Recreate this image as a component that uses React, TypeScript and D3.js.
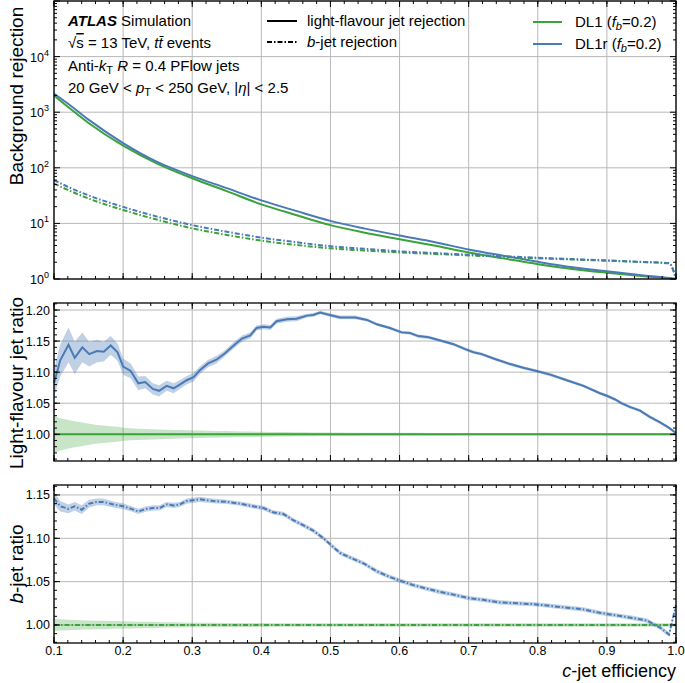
import React from "react";
import * as d3 from "d3";

const GREEN = "#3aa33a";
const BLUE = "#4a7ab6";
const GRID = "#b8b8b8";
const FONT = "'Liberation Sans', Arial, Helvetica, sans-serif";

// top panel: background rejection vs c-jet efficiency
const effTop = [0.1, 0.12, 0.15, 0.2, 0.25, 0.3, 0.35, 0.4, 0.45, 0.5, 0.55, 0.6, 0.65, 0.7, 0.75, 0.8, 0.85, 0.9, 0.95, 0.99, 1.0];
const lightRejDL1 = [2000, 1250, 640, 250, 118, 65, 38, 22, 14.2, 9.3, 6.8, 5.2, 4.0, 3.0, 2.35, 1.85, 1.52, 1.3, 1.13, 1.03, 1.0];
const lightRejDL1r = [2160, 1430, 735, 278, 126, 71, 43, 25.9, 16.8, 11.1, 8.05, 6.05, 4.62, 3.4, 2.62, 2.04, 1.63, 1.38, 1.17, 1.04, 1.0];
const bRejDL1 = [52, 40, 28, 17.4, 11.6, 8.15, 6.2, 4.9, 4.1, 3.56, 3.25, 3.0, 2.82, 2.66, 2.5, 2.36, 2.24, 2.13, 2.02, 1.93, 1.0];
const bRejDL1r = [60, 45.5, 31.9, 19.8, 13.2, 9.32, 7.08, 5.56, 4.6, 3.88, 3.5, 3.15, 2.93, 2.74, 2.57, 2.41, 2.28, 2.16, 2.03, 1.91, 1.0];

// middle panel: light-flavour jet rejection ratio to DL1
const lightRatioEff = [0.100, 0.109, 0.121, 0.130, 0.141, 0.151, 0.162, 0.172, 0.182, 0.192, 0.200, 0.211, 0.222, 0.232, 0.243, 0.252, 0.263, 0.273, 0.282, 0.292, 0.302, 0.311, 0.323, 0.335, 0.347, 0.360, 0.372, 0.384, 0.393, 0.403, 0.413, 0.422, 0.437, 0.451, 0.466, 0.475, 0.485, 0.499, 0.514, 0.536, 0.553, 0.567, 0.586, 0.603, 0.615, 0.627, 0.642, 0.659, 0.678, 0.695, 0.707, 0.719, 0.736, 0.760, 0.779, 0.801, 0.818, 0.842, 0.866, 0.890, 0.900, 0.912, 0.921, 0.933, 0.948, 0.962, 0.977, 0.989, 1.000];
const lightRatioDL1r = [1.082, 1.119, 1.144, 1.123, 1.140, 1.129, 1.134, 1.133, 1.143, 1.132, 1.109, 1.102, 1.082, 1.084, 1.073, 1.070, 1.078, 1.074, 1.080, 1.087, 1.092, 1.103, 1.114, 1.120, 1.130, 1.143, 1.154, 1.159, 1.171, 1.173, 1.172, 1.182, 1.185, 1.186, 1.191, 1.192, 1.196, 1.192, 1.188, 1.188, 1.184, 1.177, 1.171, 1.164, 1.163, 1.158, 1.156, 1.151, 1.145, 1.137, 1.132, 1.129, 1.122, 1.113, 1.107, 1.101, 1.096, 1.087, 1.078, 1.066, 1.062, 1.056, 1.050, 1.044, 1.038, 1.028, 1.019, 1.011, 1.002];
const lightErrDL1r = [0.022, 0.026, 0.028, 0.026, 0.024, 0.020, 0.018, 0.016, 0.015, 0.014, 0.013, 0.012, 0.011, 0.010, 0.009, 0.009, 0.008, 0.008, 0.007, 0.007, 0.007, 0.006, 0.006, 0.006, 0.005, 0.005, 0.005, 0.005, 0.004, 0.004, 0.004, 0.004, 0.004, 0.004, 0.003, 0.003, 0.003, 0.003, 0.003, 0.003, 0.0025, 0.0025, 0.0025, 0.0025, 0.0025, 0.0025, 0.0025, 0.0025, 0.0025, 0.0025, 0.0025, 0.0025, 0.0025, 0.0025, 0.0025, 0.0025, 0.0025, 0.0025, 0.0025, 0.0025, 0.0025, 0.0025, 0.0025, 0.0025, 0.0025, 0.0025, 0.0025, 0.0025, 0.0025];
const lightErrDL1 = [0.030, 0.026, 0.023, 0.021, 0.019, 0.017, 0.015, 0.014, 0.013, 0.012, 0.0105, 0.0098, 0.009, 0.0086, 0.0082, 0.0078, 0.0074, 0.007, 0.0067, 0.0064, 0.0062, 0.006, 0.0057, 0.0054, 0.0051, 0.0048, 0.0046, 0.0044, 0.0042, 0.004, 0.0038, 0.0037, 0.0035, 0.0033, 0.0031, 0.003, 0.0029, 0.0028, 0.0027, 0.0026, 0.0025, 0.0025, 0.0024, 0.0024, 0.0023, 0.0023, 0.0022, 0.0022, 0.0022, 0.0021, 0.0021, 0.0021, 0.002, 0.002, 0.002, 0.002, 0.002, 0.002, 0.002, 0.002, 0.002, 0.002, 0.002, 0.002, 0.002, 0.002, 0.002, 0.002, 0.002];

// bottom panel: b-jet rejection ratio to DL1
const bRatioEff = [0.100, 0.109, 0.121, 0.130, 0.140, 0.151, 0.162, 0.171, 0.186, 0.200, 0.212, 0.222, 0.234, 0.244, 0.253, 0.263, 0.273, 0.282, 0.292, 0.311, 0.331, 0.350, 0.369, 0.388, 0.403, 0.417, 0.432, 0.446, 0.461, 0.475, 0.490, 0.504, 0.514, 0.528, 0.548, 0.567, 0.584, 0.601, 0.620, 0.639, 0.659, 0.678, 0.700, 0.721, 0.745, 0.770, 0.794, 0.818, 0.842, 0.866, 0.890, 0.914, 0.938, 0.958, 0.977, 0.990, 1.000];
const bRatioDL1r = [1.146, 1.137, 1.134, 1.137, 1.133, 1.140, 1.142, 1.142, 1.139, 1.137, 1.134, 1.131, 1.134, 1.135, 1.135, 1.139, 1.138, 1.139, 1.143, 1.145, 1.143, 1.142, 1.140, 1.137, 1.135, 1.130, 1.128, 1.121, 1.115, 1.109, 1.100, 1.090, 1.083, 1.078, 1.071, 1.062, 1.056, 1.051, 1.046, 1.042, 1.038, 1.035, 1.031, 1.029, 1.026, 1.025, 1.024, 1.022, 1.020, 1.018, 1.014, 1.011, 1.008, 1.005, 0.997, 0.989, 1.023];
const bErrDL1r = [0.007, 0.006, 0.005, 0.005, 0.005, 0.0045, 0.004, 0.004, 0.0035, 0.0035, 0.003, 0.003, 0.003, 0.003, 0.003, 0.003, 0.003, 0.003, 0.003, 0.003, 0.0025, 0.0025, 0.0025, 0.0025, 0.0025, 0.0025, 0.0025, 0.0025, 0.0025, 0.0025, 0.0025, 0.0025, 0.0025, 0.0025, 0.0025, 0.0025, 0.0025, 0.0025, 0.0025, 0.0025, 0.0025, 0.0025, 0.0025, 0.0025, 0.0025, 0.0025, 0.0025, 0.0025, 0.0025, 0.0025, 0.0025, 0.0025, 0.0025, 0.0025, 0.0025, 0.0025, 0.0025];
const bErrDL1 = [0.007, 0.0065, 0.006, 0.0058, 0.0055, 0.0052, 0.005, 0.0048, 0.0045, 0.0042, 0.004, 0.0038, 0.0036, 0.0034, 0.0032, 0.003, 0.003, 0.0028, 0.0027, 0.0026, 0.0025, 0.0024, 0.0023, 0.0022, 0.0022, 0.0021, 0.0021, 0.002, 0.002, 0.002, 0.002, 0.002, 0.002, 0.002, 0.002, 0.002, 0.002, 0.002, 0.002, 0.002, 0.002, 0.002, 0.002, 0.002, 0.002, 0.002, 0.002, 0.002, 0.002, 0.002, 0.002, 0.002, 0.002, 0.002, 0.002, 0.002, 0.002];

const xTickLabels = ["0.1", "0.2", "0.3", "0.4", "0.5", "0.6", "0.7", "0.8", "0.9", "1.0"];
const midTickLabels = ["1.00", "1.05", "1.10", "1.15", "1.20"];
const botTickLabels = ["1.00", "1.05", "1.10", "1.15"];
const topTickExponents = [0, 1, 2, 3, 4];

const x = d3.scaleLinear().domain([0.1, 1.0]).range([54, 676]);
const yTop = d3.scaleLog().domain([1, 1e5]).range([279, 1]);
const yMid = d3.scaleLinear().domain([0.957, 1.2113]).range([461, 303]);
const yBot = d3.scaleLinear().domain([0.9792, 1.1615]).range([643, 485]);

const xMajor = x.ticks(9);
const xMinor = x.ticks(45);
const DASHDOT = "5,2,1.5,2";

type Scale = (v: number) => number;

function linePath(xs: number[], ys: number[], y: Scale, curve = d3.curveLinear) {
  return d3
    .line<number>()
    .x((_, i) => x(xs[i]))
    .y(d => y(d))
    .curve(curve)(ys) as string;
}

function bandPath(xs: number[], ys: number[], err: number[], y: Scale) {
  return d3
    .area<number>()
    .x((_, i) => x(xs[i]))
    .y0((d, i) => y(d - err[i]))
    .y1((d, i) => y(d + err[i]))(ys) as string;
}

function Grid({ y, yGrid }: { y: any; yGrid: number[] }) {
  const [yb, yt] = y.range();
  return (
    <g stroke={GRID} strokeWidth={1}>
      {xMajor.map(v => (
        <line key={"gx" + v} x1={x(v)} x2={x(v)} y1={yt} y2={yb} />
      ))}
      {yGrid.map(v => (
        <line key={"gy" + v} x1={x.range()[0]} x2={x.range()[1]} y1={y(v)} y2={y(v)} />
      ))}
    </g>
  );
}

function Frame({ y, yMajor, yMinor }: { y: any; yMajor: number[]; yMinor: number[] }) {
  const [yb, yt] = y.range();
  const [xl, xr] = x.range();
  return (
    <g stroke="#000" strokeWidth={1}>
      {xMinor.map(v => (
        <g key={"mx" + v}>
          <line x1={x(v)} x2={x(v)} y1={yb} y2={yb - 3} />
          <line x1={x(v)} x2={x(v)} y1={yt} y2={yt + 3} />
        </g>
      ))}
      {xMajor.map(v => (
        <g key={"Mx" + v}>
          <line x1={x(v)} x2={x(v)} y1={yb} y2={yb - 6} />
          <line x1={x(v)} x2={x(v)} y1={yt} y2={yt + 6} />
        </g>
      ))}
      {yMinor.map(v => (
        <g key={"my" + v}>
          <line x1={xl} x2={xl + 3} y1={y(v)} y2={y(v)} />
          <line x1={xr} x2={xr - 3} y1={y(v)} y2={y(v)} />
        </g>
      ))}
      {yMajor.map(v => (
        <g key={"My" + v}>
          <line x1={xl} x2={xl + 6} y1={y(v)} y2={y(v)} />
          <line x1={xr} x2={xr - 6} y1={y(v)} y2={y(v)} />
        </g>
      ))}
      <rect x={xl} y={yt} width={xr - xl} height={yb - yt} fill="none" strokeWidth={1.3} />
    </g>
  );
}

export default function App() {
  const topAll = yTop.ticks();
  const topMajor = topAll.filter(v => Number.isInteger(Math.log10(v)));
  const topMinor = topAll.filter(v => !Number.isInteger(Math.log10(v)));
  const midMajor = midTickLabels.map(Number);
  const midMinor = yMid.ticks(25);
  const botMajor = botTickLabels.map(Number);
  const botMinor = yBot.ticks(18);
  const ones = lightRatioEff.map(() => 1);
  const onesB = bRatioEff.map(() => 1);
  const legendSize = 15;

  return (
    <svg width={685} height={683} style={{ position: "absolute", left: 0, top: 0 }} fontFamily={FONT}>
      <rect width={685} height={683} fill="#fff" />

      {/* top panel */}
      <Grid y={yTop} yGrid={topMajor} />
      <path d={linePath(effTop, lightRejDL1, yTop, d3.curveMonotoneX)} fill="none" stroke={GREEN} strokeWidth={2} />
      <path d={linePath(effTop, lightRejDL1r, yTop, d3.curveMonotoneX)} fill="none" stroke={BLUE} strokeWidth={2} />
      <path d={linePath(effTop, bRejDL1, yTop, d3.curveMonotoneX)} fill="none" stroke={GREEN} strokeWidth={2} strokeDasharray={DASHDOT} />
      <path d={linePath(effTop, bRejDL1r, yTop, d3.curveMonotoneX)} fill="none" stroke={BLUE} strokeWidth={2} strokeDasharray={DASHDOT} />
      <Frame y={yTop} yMajor={topMajor} yMinor={topMinor} />
      {topTickExponents.map(e => (
        <text key={"tt" + e} x={49} y={yTop(Math.pow(10, e)) + 5} fontSize={12.5} textAnchor="end">
          10<tspan dy={-6} fontSize={9}>{e}</tspan>
        </text>
      ))}

      {/* middle panel */}
      <Grid y={yMid} yGrid={midMajor} />
      <path d={bandPath(lightRatioEff, ones, lightErrDL1, yMid)} fill={GREEN} fillOpacity={0.28} />
      <path d={bandPath(lightRatioEff, lightRatioDL1r, lightErrDL1r, yMid)} fill={BLUE} fillOpacity={0.35} />
      <path d={linePath(lightRatioEff, ones, yMid)} fill="none" stroke={GREEN} strokeWidth={2} />
      <path d={linePath(lightRatioEff, lightRatioDL1r, yMid)} fill="none" stroke={BLUE} strokeWidth={2} />
      <Frame y={yMid} yMajor={midMajor} yMinor={midMinor} />
      {midTickLabels.map(t => (
        <text key={"mt" + t} x={50} y={yMid(+t) + 4.5} fontSize={12.5} textAnchor="end">{t}</text>
      ))}

      {/* bottom panel */}
      <Grid y={yBot} yGrid={botMajor} />
      <path d={bandPath(bRatioEff, onesB, bErrDL1, yBot)} fill={GREEN} fillOpacity={0.28} />
      <path d={bandPath(bRatioEff, bRatioDL1r, bErrDL1r, yBot)} fill={BLUE} fillOpacity={0.35} />
      <path d={linePath(bRatioEff, onesB, yBot)} fill="none" stroke={GREEN} strokeWidth={2} strokeDasharray={DASHDOT} />
      <path d={linePath(bRatioEff, bRatioDL1r, yBot)} fill="none" stroke={BLUE} strokeWidth={2} strokeDasharray={DASHDOT} />
      <Frame y={yBot} yMajor={botMajor} yMinor={botMinor} />
      {botTickLabels.map(t => (
        <text key={"bt" + t} x={50} y={yBot(+t) + 4.5} fontSize={12.5} textAnchor="end">{t}</text>
      ))}
      {xTickLabels.map(t => (
        <text key={"xt" + t} x={x(+t)} y={655} fontSize={12.5} textAnchor="middle">{t}</text>
      ))}

      {/* axis titles */}
      <text transform="translate(23,96) rotate(-90)" fontSize={19} textAnchor="middle">Background rejection</text>
      <text transform="translate(23,383) rotate(-90)" fontSize={19} textAnchor="middle">Light-flavour jet ratio</text>
      <text transform="translate(23,564) rotate(-90)" fontSize={19} textAnchor="middle">
        <tspan fontStyle="italic">b</tspan>-jet ratio
      </text>
      <text x={676} y={677} fontSize={18} textAnchor="end">
        <tspan fontStyle="italic">c</tspan>-jet efficiency
      </text>

      {/* labels */}
      <g fontSize={legendSize}>
        <text x={68} y={26}>
          <tspan fontWeight="bold" fontStyle="italic">ATLAS</tspan> Simulation
        </text>
        <text x={68} y={48}>
          √<tspan style={{ textDecoration: "overline" }}>s</tspan> = 13 TeV, <tspan fontStyle="italic">t</tspan><tspan fontStyle="italic">t̄</tspan> events
        </text>
        <text x={68} y={71}>
          Anti-<tspan fontStyle="italic">k</tspan><tspan dy={3} fontSize={11}>T</tspan><tspan dy={-3}> </tspan><tspan fontStyle="italic">R</tspan> = 0.4 PFlow jets
        </text>
        <text x={68} y={93}>
          20 GeV &lt; <tspan fontStyle="italic">p</tspan><tspan dy={3} fontSize={11}>T</tspan><tspan dy={-3}> &lt; 250 GeV, |</tspan><tspan fontStyle="italic">η</tspan>| &lt; 2.5
        </text>

        <line x1={267} x2={297} y1={21} y2={21} stroke="#000" strokeWidth={2} />
        <text x={307} y={26}>light-flavour jet rejection</text>
        <line x1={267} x2={297} y1={42} y2={42} stroke="#000" strokeWidth={2} strokeDasharray={DASHDOT} />
        <text x={307} y={47}>
          <tspan fontStyle="italic">b</tspan>-jet rejection
        </text>

        <line x1={533} x2={562} y1={22} y2={22} stroke={GREEN} strokeWidth={2} />
        <text x={575} y={27}>
          DL1 (<tspan fontStyle="italic">f</tspan><tspan dy={3} fontSize={11} fontStyle="italic">b</tspan><tspan dy={-3}>=0.2)</tspan>
        </text>
        <line x1={533} x2={562} y1={44} y2={44} stroke={BLUE} strokeWidth={2} />
        <text x={575} y={49}>
          DL1r (<tspan fontStyle="italic">f</tspan><tspan dy={3} fontSize={11} fontStyle="italic">b</tspan><tspan dy={-3}>=0.2)</tspan>
        </text>
      </g>
    </svg>
  );
}
